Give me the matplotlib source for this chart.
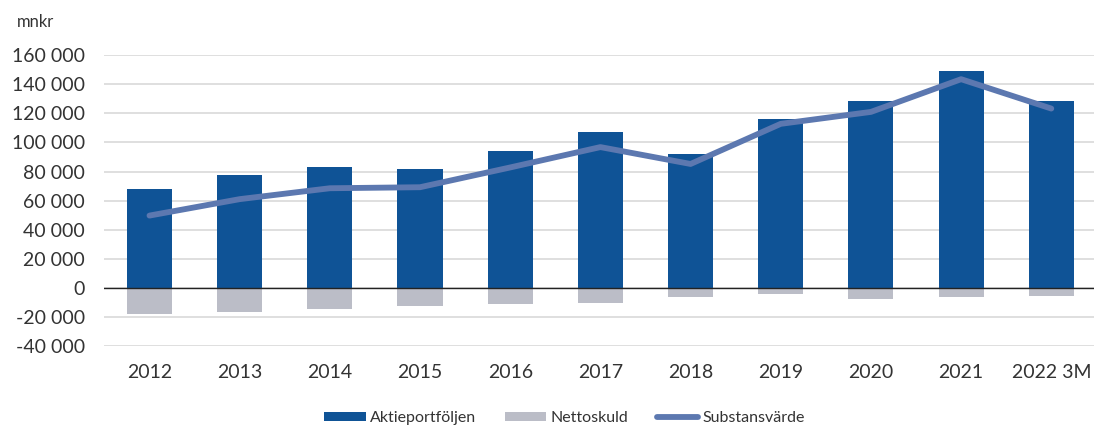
import matplotlib
matplotlib.use("Agg")
import matplotlib.pyplot as plt
import numpy as np

years = ["2012", "2013", "2014", "2015", "2016", "2017", "2018", "2019", "2020", "2021", "2022 3M"]
aktieportfoljen = [67800, 77400, 83200, 81800, 94200, 107000, 92000, 116200, 128600, 149400, 128800]
nettoskuld = [-18100, -16500, -14300, -12400, -11000, -10300, -6400, -4100, -7800, -6400, -5500]
substansvarde = [49700, 61000, 68500, 69200, 82800, 96800, 85200, 112800, 121000, 143500, 123300]

plt.rcParams['font.family'] = ['Lato', 'DejaVu Sans']

W, H = 1094, 428
fig = plt.figure(figsize=(W / 100, H / 100), dpi=100)
left_px, right_px = 104.4, 1094
top_px, bot_px = 55.2, 346
ax = fig.add_axes([left_px / W, 1 - bot_px / H, (right_px - left_px) / W, (bot_px - top_px) / H])

x = np.arange(len(years))
step = 90.18
b1 = ax.bar(x, aktieportfoljen, width=0.5, color="#0F5396", label="Aktieportföljen", zorder=2)
b2 = ax.bar(x, nettoskuld, width=0.5, color="#BBBDC7", label="Nettoskuld", zorder=2)
l1, = ax.plot(x, substansvarde, color="#5C78B0", lw=4.2, label="Substansvärde", zorder=3,
              solid_capstyle="round", solid_joinstyle="round")

ax.set_xlim(-0.5, -0.5 + (right_px - left_px) / step)
ax.set_ylim(-40000, 160000)
ax.set_yticks(np.arange(-40000, 160001, 20000))
ax.set_yticklabels([f"{v:,}".replace(",", " ") for v in range(-40000, 160001, 20000)])
ax.set_xticks(x)
ax.set_xticklabels(years)
ax.grid(axis="y", color="#D9D9D9", lw=1.2, zorder=0)
ax.axhline(0, color="#222222", lw=1, zorder=2.5)
for s in ax.spines.values():
    s.set_visible(False)
ax.tick_params(axis="both", length=0, labelsize=14, colors="#333333")
ax.tick_params(axis="y", pad=14)
ax.tick_params(axis="x", pad=13)

fig.text(17 / W, 1 - 22 / H, "mnkr", fontsize=12, color="#333333", va="center")

fig.legend([b1, b2, l1], ["Aktieportföljen", "Nettoskuld", "Substansvärde"],
           loc="center", bbox_to_anchor=(0.516, 1 - 418 / H), ncol=3, frameon=False,
           fontsize=11.5, handlelength=2.6, handleheight=0.45, handletextpad=0.25,
           columnspacing=1.8, labelcolor="#333333")

fig.savefig("out.png", dpi=100)
